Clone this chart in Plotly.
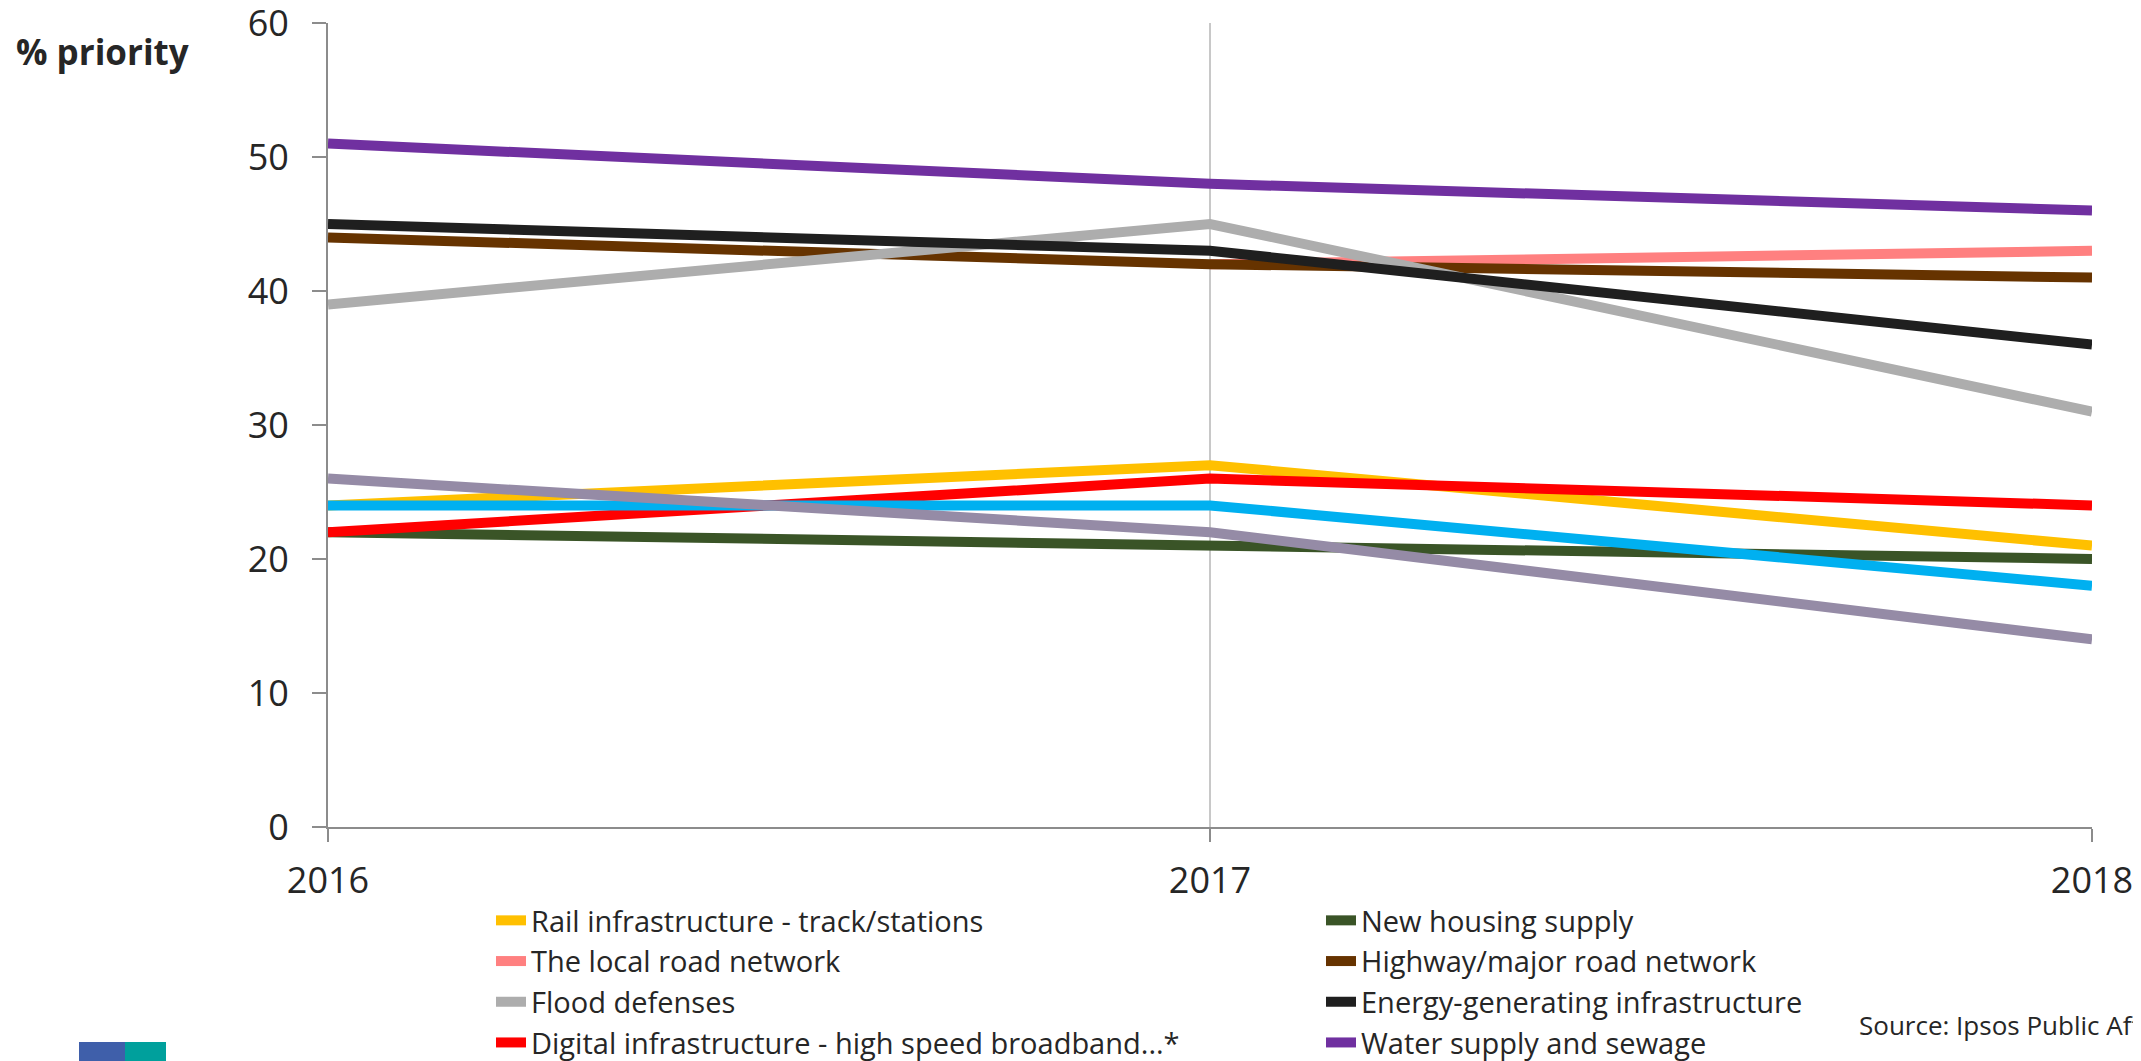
import plotly.graph_objects as go

years = ["2016", "2017", "2018"]

rail = [24, 27, 21]
new_housing = [22, 21, 20]
local_road = [None, 42, 43]
highway = [44, 42, 41]
flood = [39, 45, 31]
energy = [45, 43, 36]
digital = [22, 26, 24]
water = [51, 48, 46]
unlabelled_blue = [24, 24, 18]
unlabelled_mauve = [26, 22, 14]

series = [
    ("Rail infrastructure - track/stations", rail, "#FFC000", True),
    ("New housing supply", new_housing, "#3A5427", True),
    ("The local road network", local_road, "#FF8080", True),
    ("Highway/major road network", highway, "#663300", True),
    ("Flood defenses", flood, "#ADADAD", True),
    ("Energy-generating infrastructure", energy, "#1F1F1F", True),
    ("Digital infrastructure - high speed broadband...*", digital, "#FF0000", True),
    ("Water supply and sewage", water, "#7030A0", True),
    ("", unlabelled_blue, "#00B0F0", False),
    ("", unlabelled_mauve, "#958BA6", False),
]

FONT = "Open Sans"
TXT = "#262626"
OFF = 8  # page body margin
W, H = 2141 - OFF, 1061 - OFF
ML, MR, MT, MB = 320, 49, 15, 234
PW = W - ML - MR
PH = H - MT - MB
PLOT_LEFT = ML + OFF
PLOT_BOTTOM = MT + PH + OFF


def px(x):
    return (x - PLOT_LEFT) / PW


def py(y):
    return (PLOT_BOTTOM - y) / PH


fig = go.Figure()
for name, vals, color, show in series:
    fig.add_trace(go.Scatter(
        x=years, y=vals, mode="lines", name=name, showlegend=show,
        line=dict(color=color, width=10), connectgaps=False,
    ))

fig.update_layout(
    width=W, height=H,
    margin=dict(l=ML, r=MR, t=MT, b=MB, autoexpand=False),
    plot_bgcolor="white", paper_bgcolor="white",
    font=dict(family=FONT, color=TXT),
    legend=dict(
        orientation="h", x=px(491), xanchor="left", y=py(895), yanchor="top",
        font=dict(size=29, family=FONT, color=TXT),
        entrywidth=785, entrywidthmode="pixels",
        bgcolor="rgba(0,0,0,0)",
    ),
    xaxis=dict(
        type="category", range=[0, 2], showgrid=True, gridcolor="#C8C8C8", gridwidth=2,
        showline=True, linecolor="#8C8C8C", linewidth=2,
        ticks="outside", ticklen=13, tickcolor="#8C8C8C", tickwidth=2,
        tickfont=dict(size=36, family=FONT, color=TXT), ticklabelstandoff=8,
        zeroline=False, ticklabeloverflow="allow",
    ),
    yaxis=dict(
        range=[0, 60], dtick=10, showgrid=False, zeroline=False,
        showline=True, linecolor="#8C8C8C", linewidth=2,
        ticks="outside", ticklen=14, tickcolor="#8C8C8C", tickwidth=2,
        tickfont=dict(size=36, family=FONT, color=TXT), ticklabelstandoff=16,
        ticklabeloverflow="allow",
    ),
    annotations=[
        dict(text="<b>% priority</b>", xref="paper", yref="paper",
             x=px(14), y=py(52),
             xanchor="left", yanchor="middle", showarrow=False,
             font=dict(size=35, family=FONT, color=TXT)),
        dict(text="Source: Ipsos Public Affairs", xref="paper", yref="paper",
             x=px(1857), y=py(1025),
             xanchor="left", yanchor="middle", showarrow=False,
             font=dict(size=26, family=FONT, color=TXT)),
    ],
    shapes=[
        dict(type="rect", xref="paper", yref="paper",
             x0=px(79), x1=px(125), y0=py(1075), y1=py(1042),
             fillcolor="#3F5FAA", line=dict(width=0), layer="above"),
        dict(type="rect", xref="paper", yref="paper",
             x0=px(125), x1=px(166), y0=py(1075), y1=py(1042),
             fillcolor="#00A09C", line=dict(width=0), layer="above"),
    ],
)

fig.write_html("out.html")
